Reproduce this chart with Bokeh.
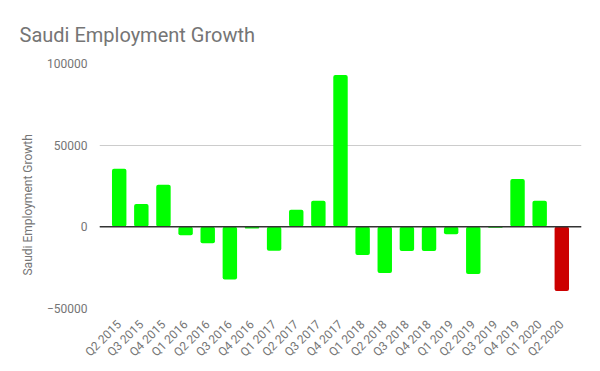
import math
from bokeh.plotting import figure
from bokeh.models import FactorRange, Range1d, FixedTicker, Span, ColumnDataSource, Title
from bokeh.embed import file_html
from bokeh.resources import INLINE

quarters = ["Q2 2015", "Q3 2015", "Q4 2015", "Q1 2016", "Q2 2016", "Q3 2016",
            "Q4 2016", "Q1 2017", "Q2 2017", "Q3 2017", "Q4 2017", "Q1 2018",
            "Q2 2018", "Q3 2018", "Q4 2018", "Q1 2019", "Q2 2019", "Q3 2019",
            "Q4 2019", "Q1 2020", "Q2 2020"]
growth = [35500, 14000, 25800, -5100, -10000, -32300, -1000, -14600, 10400,
          16000, 93000, -17300, -28200, -14800, -14800, -4500, -28900, -600,
          29300, 16000, -39300]
bar_colors = ["#00ff00"] * 20 + ["#cc0000"]
y_ticks = [-50000, 0, 50000, 100000]

FONT = "Roboto"
GREY = "#757575"

src = ColumnDataSource(dict(q=quarters, v=growth, c=bar_colors))

p = figure(width=600, height=371, output_backend="svg", toolbar_location=None,
           x_range=FactorRange(factors=quarters, range_padding=0.39,
                               range_padding_units="absolute"),
           y_range=Range1d(-50000, 100000),
           min_border_left=99, min_border_right=19,
           min_border_top=63, min_border_bottom=63)

p.title = Title(text="Saudi Employment Growth", align="left", offset=-80,
                standoff=34, text_font=FONT, text_font_size="20px",
                text_color=GREY, text_font_style="normal")

p.vbar(x="q", top="v", bottom=0, width=0.652, color="c", source=src,
       line_color=None, border_radius=2)

p.add_layout(Span(location=0, dimension="width", line_color="#333333",
                  line_width=1.5))

p.outline_line_color = None
p.xgrid.grid_line_color = None
p.ygrid.grid_line_color = "#cccccc"
p.ygrid.ticker = FixedTicker(ticks=y_ticks)
p.yaxis.ticker = FixedTicker(ticks=y_ticks)
p.yaxis.formatter.use_scientific = False

for ax in (p.xaxis, p.yaxis):
    ax.axis_line_color = None
    ax.major_tick_line_color = None
    ax.minor_tick_line_color = None
    ax.major_label_text_font = FONT
    ax.major_label_text_font_size = "12px"
    ax.major_label_text_color = GREY

p.yaxis.major_label_standoff = 6
p.xaxis.major_label_orientation = math.pi / 4
p.xaxis.major_label_standoff = 8

p.add_layout(Title(text="Saudi Employment Growth", align="left", offset=33,
                   standoff=17, text_font=FONT, text_font_size="12px",
                   text_color=GREY, text_font_style="normal"), "left")

open("out.html", "w").write(file_html(p, INLINE))
